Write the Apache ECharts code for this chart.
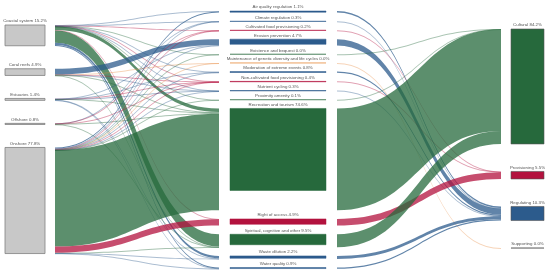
<!DOCTYPE html>
<html><head><meta charset="utf-8">
<script src="https://cdn.jsdelivr.net/npm/echarts@6/dist/echarts.min.js"></script>
<style>html,body{margin:0;padding:0;background:#fff}#c{width:550px;height:272px}</style>
</head><body><div id="c"></div>
<script>
// ---- data ----
const sources = ['Coastal system','Coral reefs','Estuaries','Offshore','Onshore'];
const sourceShare = [15.2, 4.9, 1.4, 0.8, 77.8];
const services = ['Air quality regulation','Climate regulation','Cultivated food provisioning','Erosion prevention','Existence and bequest','Maintenance of genetic diversity and life cycles','Moderation of extreme events','Non-cultivated food provisioning','Nutrient cycling','Proximity amenity','Recreation and tourism','Right of access','Spiritual, cognitive and other','Waste dilution','Water quality'];
const serviceShare = [1.1, 0.3, 0.2, 4.7, 0.0, 0.0, 0.8, 0.4, 0.3, 0.1, 74.6, 4.9, 9.5, 2.2, 0.9];
const serviceCategory = ['Regulating','Regulating','Provisioning','Regulating','Cultural','Supporting','Regulating','Provisioning','Regulating','Cultural','Cultural','Provisioning','Cultural','Regulating','Regulating'];
const categories = ['Cultural','Provisioning','Regulating','Supporting'];
const categoryShare = [84.2, 5.5, 10.3, 0.0];
// estimated flows (% of total) from each source to each service, in services order
const flowCoastal   = [0.3, 0.1, 0.1, 0,   0.01, 0,    0.3, 0.15, 0.1,  0.05, 2.6,   0.3, 9.0, 1.7, 0.5];
const flowCoral     = [0,   0,   0,   4.2, 0,    0.01, 0,   0.05, 0.04, 0,    0.4,   0,   0.2, 0,   0];
const flowEstuaries = [0,   0,   0,   0.2, 0,    0,    0.1, 0.05, 0.1,  0,    0.45,  0,   0,   0.3, 0.2];
const flowOffshore  = [0,   0.05,0.05,0,   0,    0,    0,   0.1,  0,    0,    0.4,   0,   0.2, 0,   0];
const flowOnshore   = [0.8, 0.15,0.05,0.3, 0.01, 0.01, 0.4, 0.05, 0.06, 0.05, 70.75, 4.6, 0.1, 0.2, 0.2];

// ---- styles ----
const catColor = {Cultural:'#26693c', Provisioning:'#b3123e', Regulating:'#2c5b8c', Supporting:'#e8924a'};
const K = 1.365, KM = 1.1;

const flows = [flowCoastal, flowCoral, flowEstuaries, flowOffshore, flowOnshore];
const sum = a => a.reduce((s, v) => s + v, 0);
const srcVal = flows.map(sum);
const svcVal = services.map((s, j) => sum(flows.map(r => r[j])));
const catVal = categories.map(c => sum(svcVal.filter((v, j) => serviceCategory[j] === c)));
const total = sum(srcVal);
const H = total * K, HC = total * KM;
function stack(vals, top, k, gap) { let y = top; return vals.map(v => { const t = y; y += v * k + gap; return t; }); }
const leftTops = stack(srcVal, 25, K, 23);
const midTops = stack(svcVal, 11, K, 8.66);
const rightTops = stack(catVal, 29, K, 27.5);

const labelBase = {show: true, position: 'top', distance: 1.6, fontSize: 4.4, color: '#555', fontFamily: 'Liberation Sans'};
const hidden = {color: 'rgba(0,0,0,0)', borderWidth: 0};
const common = {type: 'sankey', top: 0, nodeGap: 0, layoutIterations: 0, draggable: false, silent: true,
  emphasis: {disabled: true}, animation: false};
const linkOpacity = v => v < 0.5 ? 0.4 : 0.75;

const linksA = [];
flows.forEach((row, i) => row.forEach((v, j) => { if (v > 0) linksA.push({source: sources[i], target: services[j], value: v,
  lineStyle: {color: catColor[serviceCategory[j]], opacity: linkOpacity(v)}}); }));
const linksB = services.map((s, j) => ({source: s, target: serviceCategory[j], value: svcVal[j],
  lineStyle: {color: catColor[serviceCategory[j]], opacity: linkOpacity(svcVal[j])}}));

const option = {
  backgroundColor: '#fff',
  animation: false,
  series: [
    Object.assign({}, common, {
      left: 54, width: 166, height: H, nodeWidth: 1,
      data: sources.map((n, i) => ({name: n, localY: leftTops[i] / H}))
        .concat(services.map((n, j) => ({name: n, localY: midTops[j] / H}))),
      links: linksA, itemStyle: hidden, label: {show: false}, lineStyle: {curveness: 0.5}
    }),
    Object.assign({}, common, {
      left: 336, width: 166, height: H, nodeWidth: 1,
      data: services.map((n, j) => ({name: n, localY: midTops[j] / H}))
        .concat(categories.map((n, c) => ({name: n, localY: rightTops[c] / H}))),
      links: linksB, itemStyle: hidden, label: {show: false}, lineStyle: {curveness: 0.5}
    }),
    Object.assign({}, common, {
      left: 5, width: 40, height: H, nodeWidth: 40,
      data: sources.map((n, i) => ({name: n, value: srcVal[i], localX: 0, localY: leftTops[i] / H})),
      links: [],
      itemStyle: {color: '#c8c8c8', borderColor: '#808080', borderWidth: 0.8},
      label: Object.assign({}, labelBase, {formatter: p => p.name + ' ' + sourceShare[sources.indexOf(p.name)].toFixed(1) + '%'})
    }),
    Object.assign({}, common, {
      left: 230, width: 96, height: HC, nodeWidth: 96,
      data: services.map((n, j) => ({name: n, value: svcVal[j], localX: 0, localY: midTops[j] / HC,
        itemStyle: {color: catColor[serviceCategory[j]], borderColor: catColor[serviceCategory[j]], borderWidth: 0.5}})),
      links: [],
      label: Object.assign({}, labelBase, {formatter: p => p.name + ' ' + serviceShare[services.indexOf(p.name)].toFixed(1) + '%'})
    }),
    Object.assign({}, common, {
      left: 511, width: 33, height: H, nodeWidth: 33,
      data: categories.map((n, c) => ({name: n, value: catVal[c], localX: 0, localY: rightTops[c] / H,
        itemStyle: {color: n === 'Supporting' ? '#666' : catColor[n], borderColor: '#555', borderWidth: 0.6}})),
      links: [],
      label: Object.assign({}, labelBase, {formatter: p => p.name + ' ' + categoryShare[categories.indexOf(p.name)].toFixed(1) + '%'})
    })
  ]
};
const chart = echarts.init(document.getElementById('c'), null, {renderer: 'canvas'});
chart.setOption(option);
</script>
</body></html>
